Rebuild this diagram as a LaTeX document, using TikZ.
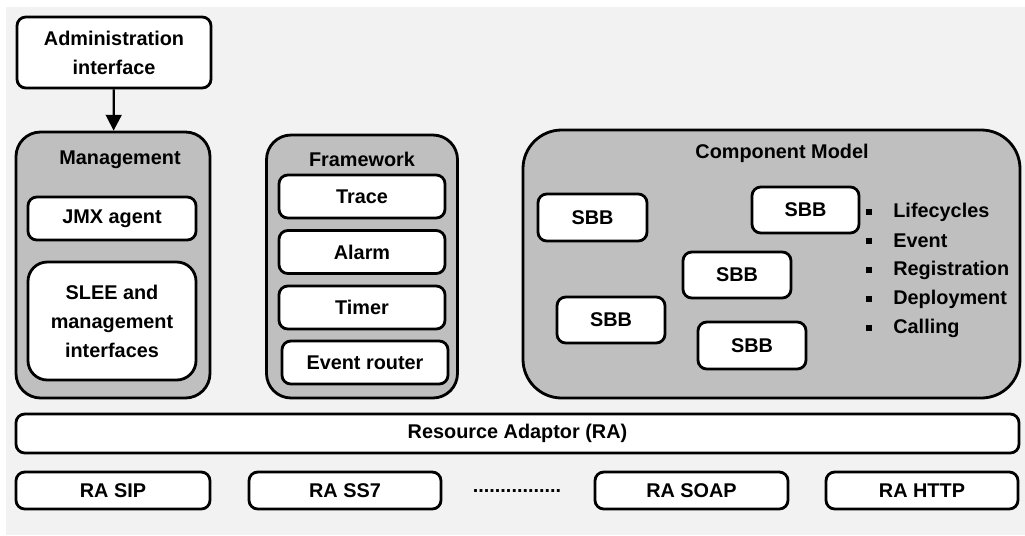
\documentclass[tikz,border=0pt]{standalone}
\usepackage{fontspec}
\setmainfont{Liberation Sans}
\usetikzlibrary{positioning,arrows.meta}
\definecolor{bggray}{HTML}{F2F2F2}
\definecolor{boxgray}{HTML}{BFBFBF}
\newcommand{\px}{0.02cm}

\begin{document}
\begin{tikzpicture}[x=0.02cm, y=-0.02cm,
        font=\bfseries\fontsize{11.3}{16.5}\selectfont,
        groupnode/.style={draw, line width=1.6pt, fill=boxgray, rounded corners=14pt, inner sep=0pt},
        itemnode/.style={draw, line width=1.6pt, fill=white, rounded corners=5pt, align=center, inner sep=0pt},
        titlenode/.style={inner sep=0pt},
        bulletnode/.style={fill=black, inner sep=0pt, minimum size=6*\px},
        ]
        %Background
        \useasboundingbox (0,0) rectangle (1025,535);
        \fill[bggray] (6,7) rectangle (1025,535);

        %Nodes
        \node[itemnode, minimum width=194*\px, minimum height=71*\px] (admin) at (114,52.5) {Administration\\interface};

        \node[groupnode, minimum width=194*\px, minimum height=266*\px] (mgmt) at (113,265) {};
        \node[titlenode] (mgmttitle) at (120,160) {Management};
        \node[itemnode, minimum width=168*\px, minimum height=43*\px] (jmx) at (112,218.5) {JMX agent};
        \node[itemnode, rounded corners=11pt, minimum width=168*\px, minimum height=118*\px] (slee) at (112,321) {SLEE and\\management\\interfaces};

        \node[groupnode, minimum width=191*\px, minimum height=263*\px] (fw) at (362,266.5) {};
        \node[titlenode] (fwtitle) at (362,159) {Framework};
        \node[itemnode, minimum width=166*\px, minimum height=43*\px] (trace) at (362,196.5) {Trace};
        \node[itemnode, minimum width=166*\px, minimum height=43*\px] (alarm) at (362,252) {Alarm};
        \node[itemnode, minimum width=166*\px, minimum height=43*\px] (timer) at (362,307.5) {Timer};
        \node[itemnode, minimum width=166*\px, minimum height=43*\px] (router) at (365,362.5) {Event router};

        \node[groupnode, rounded corners=22pt, minimum width=497*\px, minimum height=268*\px] (cm) at (771.5,264) {};
        \node[titlenode] (cmtitle) at (782,153) {Component Model};
        \node[itemnode, minimum width=109*\px, minimum height=47*\px] (sbb1) at (592.5,217.5) {SBB};
        \node[itemnode, minimum width=107*\px, minimum height=46*\px] (sbb2) at (805.5,210) {SBB};
        \node[itemnode, minimum width=108*\px, minimum height=46*\px] (sbb3) at (737,275) {SBB};
        \node[itemnode, minimum width=108*\px, minimum height=46*\px] (sbb4) at (611,320) {SBB};
        \node[itemnode, minimum width=108*\px, minimum height=47*\px] (sbb5) at (752,345.5) {SBB};
        \foreach \label [count=\i from 0] in {Lifecycles,Event,Registration,Deployment,Calling} {
            \node[bulletnode] (bul\i) at (869,212+29*\i) {};
            \node[titlenode, anchor=west] (feat\i) at (893,212+29*\i) {\label};
        }

        \node[itemnode, minimum width=1003*\px, minimum height=39*\px] (ra) at (517.5,433.5) {Resource Adaptor (RA)};
        \node[itemnode, minimum width=194*\px, minimum height=37*\px] (rasip) at (113,490.5) {RA SIP};
        \node[itemnode, minimum width=192*\px, minimum height=37*\px] (rass7) at (345,490.5) {RA SS7};
        \node[titlenode] (dots) at (517,491) {................};
        \node[itemnode, minimum width=193*\px, minimum height=37*\px] (rasoap) at (691.5,490.5) {RA SOAP};
        \node[itemnode, minimum width=192*\px, minimum height=37*\px] (rahttp) at (922,490.5) {RA HTTP};

        %Lines
        \draw[-{Triangle[length=9pt,width=9pt]}, line width=1.3pt] (admin) -- (mgmt);
    \end{tikzpicture}
\end{document}
